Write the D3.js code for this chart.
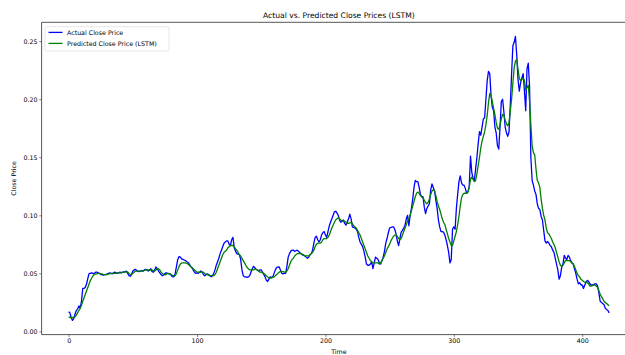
<!DOCTYPE html>
<html>
<head>
<meta charset="utf-8">
<script src="https://cdn.jsdelivr.net/npm/d3@7/dist/d3.min.js"></script>
<style>
  html, body { margin: 0; padding: 0; background: #fff; }
  svg { display: block; }
  text { font-family: "DejaVu Sans", sans-serif; fill: #000; }
</style>
</head>
<body>
<svg id="chart" width="625" height="355"></svg>
<script>
// Daily close price (scaled) and the LSTM model's prediction for the same days
const actualClose = [
  0.017,0.016,0.012,0.0095,0.011,0.015,0.018,0.0195,0.022,0.020,
  0.026,0.037,0.037,0.038,0.041,0.046,0.050,0.050,0.0505,0.050,
  0.050,0.051,0.051,0.0505,0.050,0.049,0.049,0.0485,0.049,0.049,
  0.0495,0.050,0.0505,0.050,0.0495,0.0505,0.051,0.0505,0.050,0.0505,
  0.051,0.0505,0.051,0.051,0.0515,0.052,0.050,0.048,0.0475,0.049,
  0.052,0.053,0.0535,0.0525,0.052,0.0515,0.052,0.0525,0.052,0.053,
  0.0535,0.053,0.052,0.053,0.054,0.0515,0.051,0.053,0.0555,0.054,
  0.052,0.0505,0.049,0.048,0.0485,0.050,0.0505,0.050,0.0495,0.0495,
  0.048,0.047,0.047,0.050,0.056,0.062,0.0645,0.064,0.0625,0.062,
  0.0615,0.061,0.060,0.0595,0.058,0.056,0.055,0.053,0.051,0.050,
  0.0505,0.050,0.051,0.052,0.051,0.049,0.048,0.049,0.0495,0.049,
  0.048,0.047,0.048,0.050,0.053,0.057,0.060,0.063,0.067,0.070,
  0.073,0.076,0.077,0.078,0.078,0.075,0.074,0.079,0.081,0.072,
  0.069,0.067,0.0665,0.066,0.062,0.053,0.048,0.047,0.047,0.0465,
  0.047,0.048,0.051,0.054,0.056,0.055,0.0535,0.053,0.052,0.053,
  0.053,0.051,0.049,0.047,0.044,0.043,0.045,0.047,0.0465,0.047,
  0.050,0.053,0.055,0.0555,0.0555,0.053,0.050,0.0495,0.050,0.050,
  0.056,0.064,0.067,0.069,0.070,0.070,0.069,0.0695,0.070,0.069,
  0.068,0.067,0.066,0.0655,0.065,0.064,0.063,0.064,0.066,0.067,
  0.070,0.076,0.081,0.082,0.079,0.077,0.079,0.083,0.085,0.086,
  0.083,0.081,0.086,0.091,0.094,0.097,0.100,0.103,0.1035,0.102,
  0.100,0.096,0.094,0.095,0.096,0.093,0.0915,0.094,0.097,0.101,
  0.097,0.090,0.0895,0.089,0.088,0.086,0.081,0.077,0.075,0.073,
  0.069,0.064,0.058,0.057,0.057,0.058,0.060,0.054,0.059,0.064,
  0.063,0.062,0.059,0.058,0.061,0.064,0.069,0.076,0.080,0.085,
  0.089,0.0895,0.090,0.090,0.088,0.084,0.078,0.074,0.080,0.0855,
  0.087,0.089,0.0915,0.097,0.100,0.091,0.100,0.106,0.114,0.124,
  0.130,0.129,0.129,0.124,0.118,0.116,0.116,0.107,0.1015,0.106,
  0.108,0.110,0.122,0.127,0.124,0.121,0.113,0.106,0.096,0.090,
  0.086,0.086,0.0855,0.083,0.079,0.074,0.068,0.059,0.062,0.088,
  0.090,0.088,0.106,0.118,0.129,0.134,0.128,0.126,0.126,0.123,
  0.119,0.120,0.125,0.151,0.137,0.132,0.130,0.140,0.150,0.162,
  0.172,0.169,0.176,0.183,0.184,0.200,0.216,0.224,0.222,0.203,
  0.193,0.190,0.176,0.171,0.160,0.157,0.176,0.198,0.200,0.189,
  0.176,0.171,0.168,0.172,0.195,0.222,0.246,0.249,0.254,0.238,
  0.217,0.207,0.214,0.218,0.222,0.207,0.190,0.226,0.231,0.211,
  0.150,0.130,0.126,0.121,0.118,0.110,0.106,0.105,0.099,0.096,
  0.087,0.078,0.076,0.0775,0.076,0.074,0.073,0.070,0.068,0.063,
  0.058,0.053,0.045,0.048,0.055,0.058,0.0655,0.063,0.062,0.0655,
  0.064,0.061,0.059,0.058,0.054,0.050,0.045,0.041,0.042,0.040,
  0.040,0.037,0.040,0.0425,0.044,0.043,0.041,0.040,0.040,0.0405,
  0.041,0.041,0.039,0.033,0.026,0.025,0.024,0.023,0.020,0.019,
  0.018,0.016
];

const predictedClose = [
  0.0125,0.012,0.012,0.012,0.012,0.0125,0.014,0.016,0.018,0.020,
  0.0225,0.026,0.029,0.032,0.035,0.038,0.041,0.044,0.046,0.048,
  0.049,0.0495,0.0495,0.050,0.050,0.0495,0.0495,0.049,0.049,0.049,
  0.049,0.0495,0.0495,0.050,0.050,0.050,0.050,0.0503,0.0505,0.0505,
  0.0505,0.0505,0.051,0.051,0.051,0.0513,0.0513,0.050,0.049,0.049,
  0.050,0.051,0.052,0.052,0.052,0.052,0.052,0.052,0.052,0.0525,
  0.053,0.053,0.053,0.0525,0.053,0.053,0.052,0.052,0.053,0.054,
  0.054,0.053,0.051,0.050,0.049,0.049,0.049,0.050,0.050,0.0495,
  0.049,0.048,0.048,0.048,0.050,0.053,0.056,0.058,0.059,0.059,
  0.059,0.059,0.0585,0.058,0.057,0.056,0.055,0.054,0.053,0.052,
  0.051,0.051,0.051,0.051,0.051,0.051,0.050,0.049,0.049,0.0485,
  0.048,0.048,0.048,0.048,0.049,0.051,0.054,0.057,0.060,0.063,
  0.066,0.068,0.069,0.070,0.072,0.073,0.074,0.074,0.074,0.073,
  0.071,0.070,0.068,0.066,0.065,0.063,0.061,0.059,0.057,0.055,
  0.054,0.053,0.053,0.053,0.053,0.054,0.0535,0.053,0.052,0.051,
  0.051,0.0505,0.050,0.049,0.048,0.047,0.046,0.046,0.046,0.0465,
  0.047,0.048,0.049,0.050,0.051,0.0515,0.0515,0.0515,0.051,0.051,
  0.052,0.054,0.057,0.060,0.062,0.063,0.065,0.066,0.067,0.067,
  0.067,0.067,0.0665,0.066,0.065,0.065,0.065,0.065,0.066,0.067,
  0.068,0.070,0.073,0.075,0.076,0.076,0.076,0.077,0.079,0.080,
  0.080,0.080,0.081,0.083,0.086,0.089,0.0915,0.094,0.096,0.097,
  0.098,0.097,0.096,0.095,0.095,0.095,0.094,0.093,0.093,0.0935,
  0.094,0.093,0.091,0.090,0.089,0.087,0.085,0.083,0.080,0.077,
  0.074,0.071,0.068,0.065,0.063,0.061,0.060,0.059,0.059,0.059,
  0.059,0.059,0.058,0.059,0.061,0.063,0.065,0.068,0.071,0.073,
  0.075,0.078,0.080,0.082,0.083,0.083,0.082,0.080,0.079,0.080,
  0.083,0.086,0.089,0.092,0.095,0.097,0.100,0.104,0.108,0.112,
  0.116,0.119,0.120,0.119,0.117,0.116,0.115,0.113,0.111,0.110,
  0.111,0.114,0.118,0.121,0.122,0.121,0.117,0.112,0.108,0.105,
  0.101,0.097,0.094,0.092,0.088,0.084,0.080,0.077,0.074,0.074,
  0.078,0.082,0.086,0.092,0.099,0.108,0.115,0.118,0.119,0.119,
  0.119,0.120,0.124,0.131,0.133,0.131,0.129,0.130,0.136,0.143,
  0.150,0.158,0.164,0.168,0.172,0.178,0.186,0.197,0.205,0.203,
  0.198,0.192,0.187,0.180,0.175,0.174,0.178,0.183,0.187,0.186,
  0.182,0.179,0.177,0.180,0.190,0.200,0.214,0.227,0.233,0.234,
  0.226,0.218,0.216,0.217,0.218,0.216,0.208,0.210,0.212,0.198,
  0.178,0.160,0.154,0.152,0.140,0.130,0.128,0.124,0.114,0.106,
  0.100,0.096,0.089,0.085,0.084,0.082,0.080,0.077,0.075,0.072,
  0.068,0.064,0.060,0.057,0.056,0.057,0.059,0.061,0.061,0.061,
  0.061,0.060,0.059,0.058,0.056,0.053,0.050,0.048,0.047,0.045,
  0.044,0.043,0.0425,0.0425,0.042,0.041,0.039,0.039,0.0395,0.040,
  0.040,0.039,0.038,0.035,0.032,0.030,0.028,0.026,0.025,0.024,
  0.023,0.022
];

const xTickValues = [0, 100, 200, 300, 400];
const yTickValues = [0.00, 0.05, 0.10, 0.15, 0.20, 0.25];

const seriesNames = ["Actual Close Price", "Predicted Close Price (LSTM)"];
const seriesColors = ["#0000ff", "#008000"];

const svg = d3.select("#chart");

// Axes box
const box = { left: 41.6, right: 636.2, top: 22.3, bottom: 334.6 };

// Matplotlib-style 5% padding around the data range
const n = actualClose.length;
const xPad = (n - 1) * 0.05;
const x = d3.scaleLinear()
  .domain([-xPad, (n - 1) + xPad])
  .range([box.left, box.right]);

const allVals = actualClose.concat(predictedClose);
const [yMin, yMax] = d3.extent(allVals);
const yPad = (yMax - yMin) * 0.05;
const y = d3.scaleLinear()
  .domain([yMin - yPad, yMax + yPad])
  .range([box.bottom, box.top]);

const fontSmall = 6.3;
const lineWidth = 1.3;

// Lines
const line = d3.line()
  .x((d, i) => x(i))
  .y(d => y(d));

svg.append("defs").append("clipPath").attr("id", "plotClip")
  .append("rect")
  .attr("x", box.left).attr("y", box.top)
  .attr("width", box.right - box.left).attr("height", box.bottom - box.top);

const plot = svg.append("g").attr("clip-path", "url(#plotClip)");
[actualClose, predictedClose].forEach((s, k) => {
  plot.append("path")
    .datum(s)
    .attr("fill", "none")
    .attr("stroke", seriesColors[k])
    .attr("stroke-width", lineWidth)
    .attr("stroke-linejoin", "round")
    .attr("d", line);
});

// X axis
const xAxis = d3.axisBottom(x)
  .tickValues(xTickValues)
  .tickFormat(d3.format("d"))
  .tickSize(2.3)
  .tickPadding(1.8);
const gx = svg.append("g")
  .attr("transform", `translate(0,${box.bottom})`)
  .call(xAxis);
gx.select(".domain").remove();
gx.selectAll(".tick line").attr("stroke", "#333").attr("stroke-width", 0.6);
gx.selectAll(".tick text").attr("font-size", fontSmall).attr("font-family", "DejaVu Sans").attr("fill", "#000");

// Y axis
const yAxis = d3.axisLeft(y)
  .tickValues(yTickValues)
  .tickFormat(d3.format(".2f"))
  .tickSize(2.3)
  .tickPadding(1.8);
const gy = svg.append("g")
  .attr("transform", `translate(${box.left},0)`)
  .call(yAxis);
gy.select(".domain").remove();
gy.selectAll(".tick line").attr("stroke", "#333").attr("stroke-width", 0.6);
gy.selectAll(".tick text").attr("font-size", fontSmall).attr("font-family", "DejaVu Sans").attr("fill", "#000");

// Spines (left, bottom, top; the right one falls outside the frame)
const spine = svg.append("g").attr("stroke", "#444").attr("stroke-width", 0.9).attr("fill", "none");
spine.append("line").attr("x1", box.left).attr("x2", box.left).attr("y1", box.top).attr("y2", box.bottom);
spine.append("line").attr("x1", box.left).attr("x2", box.right).attr("y1", box.bottom).attr("y2", box.bottom);
spine.append("line").attr("x1", box.left).attr("x2", box.right).attr("y1", box.top).attr("y2", box.top);
spine.append("line").attr("x1", box.right).attr("x2", box.right).attr("y1", box.top).attr("y2", box.bottom);

// Title and axis labels
const cx = (box.left + box.right) / 2;
svg.append("text")
  .attr("x", cx).attr("y", 17.5)
  .attr("text-anchor", "middle")
  .attr("font-size", 7.6)
  .text("Actual vs. Predicted Close Prices (LSTM)");

svg.append("text")
  .attr("x", cx).attr("y", 354)
  .attr("text-anchor", "middle")
  .attr("font-size", fontSmall)
  .text("Time");

svg.append("text")
  .attr("transform", `translate(16.2,${(box.top + box.bottom) / 2}) rotate(-90)`)
  .attr("text-anchor", "middle")
  .attr("font-size", fontSmall)
  .text("Close Price");

// Legend
const legend = svg.append("g");
legend.append("rect")
  .attr("x", 45).attr("y", 26.7)
  .attr("width", 124).attr("height", 24.3)
  .attr("rx", 1.5)
  .attr("fill", "#fff").attr("fill-opacity", 0.8)
  .attr("stroke", "#d6d6d6").attr("stroke-width", 0.6);
seriesNames.forEach((name, k) => {
  const ly = 32.4 + k * 11;
  legend.append("line")
    .attr("x1", 48.5).attr("x2", 62.5)
    .attr("y1", ly).attr("y2", ly)
    .attr("stroke", seriesColors[k]).attr("stroke-width", lineWidth);
  legend.append("text")
    .attr("x", 67).attr("y", ly)
    .attr("dy", "0.35em")
    .attr("font-size", fontSmall)
    .text(name);
});
</script>
</body>
</html>
